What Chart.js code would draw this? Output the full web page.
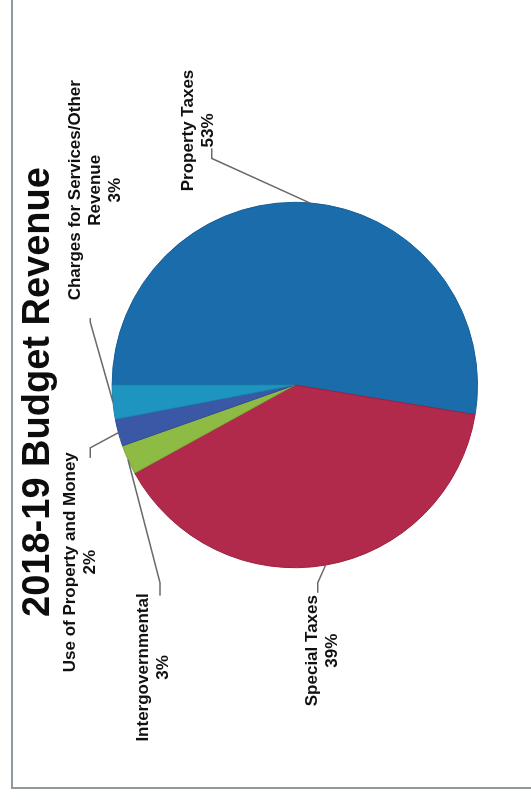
<!DOCTYPE html>
<html>
<head>
<meta charset="utf-8">
<script src="https://cdn.jsdelivr.net/npm/chart.js@4/dist/chart.umd.min.js"></script>
<style>
html,body{margin:0;padding:0;background:#fff;}
#page{position:relative;width:531px;height:802px;overflow:hidden;background:#fff;}
#rot{position:absolute;left:0;top:0;width:802px;height:531px;transform-origin:0 0;transform:translate(0px,802px) rotate(-90deg);}
#frame{position:absolute;left:13px;top:11px;right:-20px;bottom:-20px;border-left:2px solid #8f999d;border-top:2px solid #8f999d;}
#c{position:absolute;left:0;top:0;}
</style>
</head>
<body>
<div id="page"><div id="rot"><div id="frame"></div><canvas id="c" width="802" height="531"></canvas></div></div>
<script>
// ---- data ----
const chartTitle = '2018-19 Budget Revenue';
const categories = ['Property Taxes', 'Special Taxes', 'Intergovernmental', 'Use of Property and Money', 'Charges for Services/Other Revenue'];
const values = [52.6, 39.4, 2.6, 2.4, 3.0];

// ---- styles ----
const fillColors = ['#1b6cab', '#b22a4b', '#8dbb44', '#3a58a6', '#1e95c0'];
const edgeColors = ['#165f99', '#9e1f3e', '#7aa638', '#2f4b92', '#1a84ab'];

// label block centre, leader start, leader elbow: offsets from pie centre in radius units
const labelLayout = [
  {c: [1.393, -0.530], s: [1.295, -0.454], e: [1.240, -0.454]},
  {c: [-1.454, 0.148], s: [-1.137, 0.126], e: [-1.082, 0.126]},
  {c: [-1.546, -0.776], s: [-1.153, -0.738], e: [-1.082, -0.738]},
  {c: [-0.970, -1.175], s: [-0.399, -1.120], e: [-0.344, -1.120]},
  {c: [1.066, -1.093], s: [0.366, -1.120], e: [0.344, -1.120]}
];
const labelFont = 'bold 17px "Liberation Sans", Arial, sans-serif';

function wrapText(ctx, text, maxW) {
  const words = text.split(' ');
  const lines = [];
  let cur = '';
  words.forEach(w => {
    const t = cur ? cur + ' ' + w : w;
    if (ctx.measureText(t).width > maxW && cur) { lines.push(cur); cur = w; }
    else cur = t;
  });
  if (cur) lines.push(cur);
  return lines;
}

const sliceLabels = {
  id: 'sliceLabels',
  afterDatasetsDraw(chart) {
    const ctx = chart.ctx;
    const meta = chart.getDatasetMeta(0);
    const total = values.reduce((a, b) => a + b, 0);
    meta.data.forEach((arc, i) => {
      const R = arc.outerRadius, cx = arc.x, cy = arc.y;
      const mid = (arc.startAngle + arc.endAngle) / 2;
      const ex = cx + Math.cos(mid) * R, ey = cy + Math.sin(mid) * R;
      const L = labelLayout[i];
      ctx.save();
      ctx.strokeStyle = '#6a6a6a';
      ctx.lineWidth = 1.5;
      ctx.beginPath();
      ctx.moveTo(cx + L.s[0] * R, cy + L.s[1] * R);
      ctx.lineTo(cx + L.e[0] * R, cy + L.e[1] * R);
      ctx.lineTo(ex, ey);
      ctx.stroke();
      ctx.font = labelFont;
      ctx.fillStyle = '#111';
      ctx.textAlign = 'center';
      ctx.textBaseline = 'middle';
      const lines = wrapText(ctx, categories[i], 235).concat([Math.round(values[i] / total * 100) + '%']);
      const lx = cx + L.c[0] * R, ly = cy + L.c[1] * R;
      lines.forEach((t, k) => ctx.fillText(t, lx, ly + (k - (lines.length - 1) / 2) * 20));
      ctx.restore();
    });
  }
};

const titleShift = {
  id: 'titleShift',
  afterLayout(chart) {
    const t = chart.titleBlock;
    if (t) { t.left -= 7; t.right -= 7; }
  }
};

new Chart(document.getElementById('c'), {
  type: 'pie',
  data: {
    labels: categories,
    datasets: [{
      data: values,
      backgroundColor: fillColors,
      borderColor: edgeColors,
      borderWidth: 1,
      hoverOffset: 0
    }]
  },
  options: {
    responsive: false,
    animation: false,
    devicePixelRatio: 1,
    layout: {padding: {left: 32, right: 0, top: 16, bottom: 53}},
    plugins: {
      legend: {display: false},
      tooltip: {enabled: false},
      title: {
        display: true,
        text: chartTitle,
        color: '#0d0d0d',
        font: {family: '"Liberation Sans", Arial, sans-serif', size: 38, weight: 'bold', lineHeight: 1.2},
        padding: {top: 0, bottom: 50}
      }
    }
  },
  plugins: [sliceLabels, titleShift]
});
</script>
</body>
</html>
